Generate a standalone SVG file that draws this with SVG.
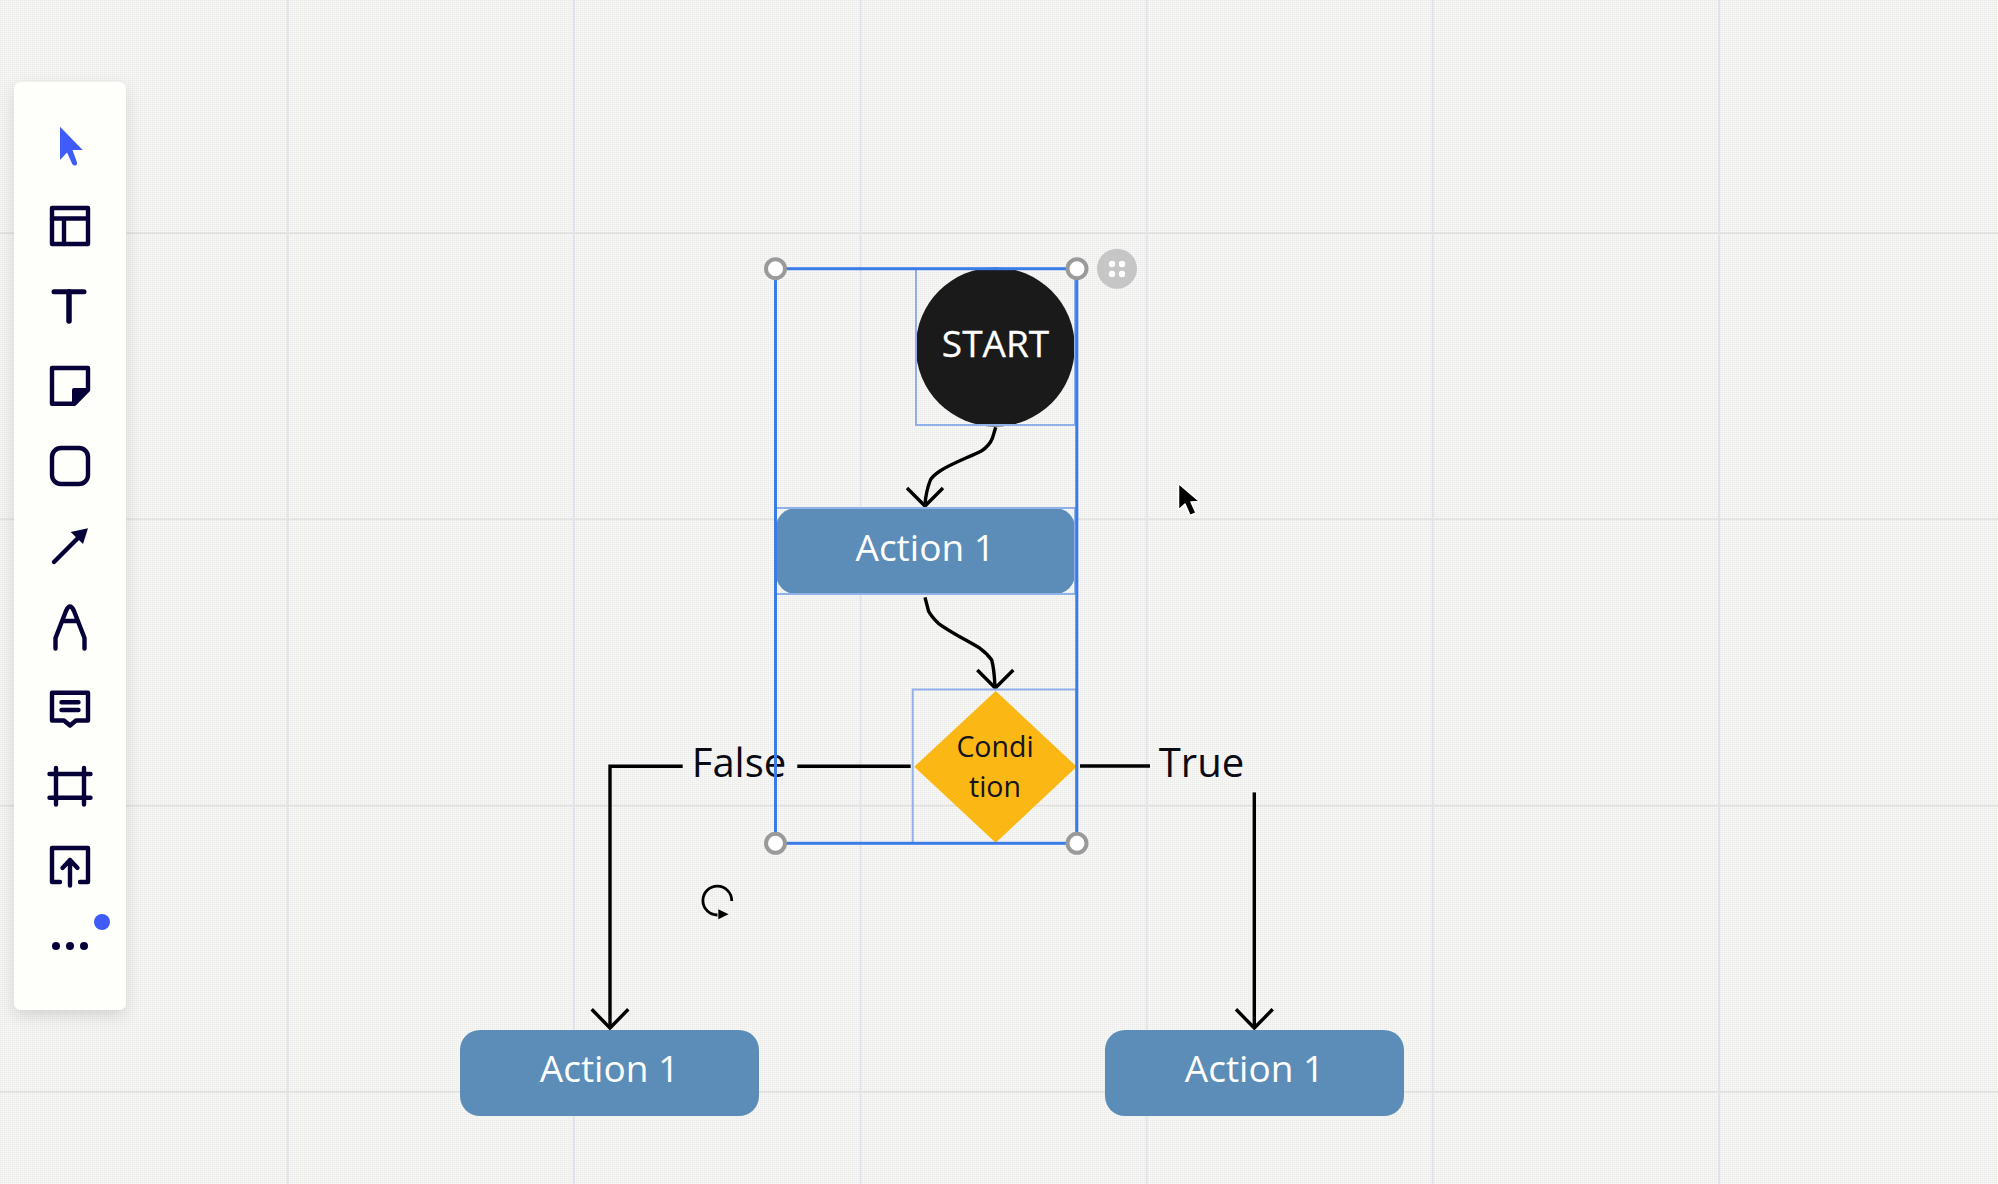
<svg xmlns="http://www.w3.org/2000/svg" width="1998" height="1184" viewBox="0 0 1998 1184">
<style>
.grid{stroke:#e3e3e1;stroke-width:2;fill:none}
.gridv{stroke:#e2e3ea;stroke-width:2;fill:none}
.conn{stroke:#000;stroke-width:3.4;fill:none}
.action{fill:#5b8db8}
.lbl{font-family:"Open Sans","Noto Sans",sans-serif;text-anchor:middle}
.w{fill:#fff;font-size:37px}
.k{fill:#0a0a14;font-size:40px}
.c{fill:#14141e;font-size:28.5px}
.box{fill:none;stroke:#8fb0e8;stroke-width:2}
.sel{fill:none;stroke:#3b7be8;stroke-width:3}
.h{fill:#fff;stroke:#9a9a9a;stroke-width:4}
.i{fill:none;stroke:#050038;stroke-width:4.4;stroke-linecap:round;stroke-linejoin:round}
.f{fill:#050038}
</style>
<defs>
<pattern id="dither" width="2" height="2" patternUnits="userSpaceOnUse">
<rect width="2" height="2" fill="#f3f3ef"/>
<rect width="1" height="1" fill="#ebebeb"/>
<rect x="1" y="1" width="1" height="1" fill="#fbfae8"/>
</pattern>
<filter id="shadow" x="-40%" y="-10%" width="180%" height="120%">
<feDropShadow dx="0" dy="6" stdDeviation="8" flood-color="#000" flood-opacity="0.13"/>
</filter>
</defs>
<rect id="background" width="1998" height="1184" fill="url(#dither)"/>
<g id="grid">
<path class="gridv" d="M287.7 0V1184M574 0V1184M860.5 0V1184M1146.7 0V1184M1432.7 0V1184M1719 0V1184"/>
<path class="grid" d="M0 233H1998M0 519.3H1998M0 805.7H1998M0 1092H1998"/>
</g>

<g id="connectors">
<path class="conn" d="M995.7 427.3L992.5 438C990 444 986 448 981.7 450.7C972 456 952 463 940 471C934 475 931 478 930 481C927 489 925.5 497 925 505"/>
<path class="conn" d="M907 488L925 506L943 488"/>
<path class="conn" d="M925 597.3L928.5 611C931 616 935 620 938.3 623.3C950 632 968 641 980 648.3C985 652 989 656 991.7 660C994 668 994.5 678 995 686"/>
<path class="conn" d="M977.3 670L995.3 688L1013.3 670"/>
<path class="conn" d="M682.7 766.3H610V1027"/>
<path class="conn" d="M797.3 766.3H910.7"/>
<path class="conn" d="M591.7 1009.3L610 1028L628.3 1009.3"/>
<path class="conn" d="M1080 766H1150"/>
<path class="conn" d="M1254.3 792.4V1027"/>
<path class="conn" d="M1236 1009.3L1254.3 1028L1272.7 1009.3"/>
</g>

<g id="node-start">
<circle cx="995.3" cy="347" r="79.5" fill="#1a1a1a"/>
<rect class="box" x="916" y="269" width="159" height="156"/>
<text class="lbl w" x="995.5" y="356.7" stroke="#fff" stroke-width="0.3">START</text>
</g>
<g id="node-action-top">
<rect class="action" x="776" y="508" width="299" height="86" rx="20"/>
<rect class="box" x="776" y="508" width="299" height="86"/>
<text class="lbl w" x="925.2" y="561">Action 1</text>
</g>
<g id="node-condition">
<path d="M995.7 691L1076.7 766.7L995.7 842.7L914.3 766.7Z" fill="#fbb714"/>
<rect class="box" x="912.7" y="689.5" width="163.5" height="153.5"/>
<text class="lbl c" x="995" y="756.7">Condi</text>
<text class="lbl c" x="995" y="796.7">tion</text>
</g>
<g id="node-action-left">
<rect class="action" x="460" y="1030" width="299" height="86" rx="20"/>
<text class="lbl w" x="609.5" y="1082">Action 1</text>
</g>
<g id="node-action-right">
<rect class="action" x="1105" y="1030" width="299" height="86" rx="20"/>
<text class="lbl w" x="1254.5" y="1082">Action 1</text>
</g>
<g id="label-false"><text class="lbl k" x="739" y="776.7">False</text></g>
<g id="label-true"><text class="lbl k" x="1201.5" y="776.7">True</text></g>

<g id="selection">
<rect class="sel" x="775.5" y="268.7" width="301.3" height="574.6"/>
<circle class="h" cx="775.5" cy="268.7" r="9.5"/>
<circle class="h" cx="1077" cy="268.7" r="9.5"/>
<circle class="h" cx="775.5" cy="843.3" r="9.5"/>
<circle class="h" cx="1077" cy="843.3" r="9.5"/>
<circle cx="1117" cy="268.7" r="20" fill="#c6c6c6"/>
<g fill="#fff"><circle cx="1112" cy="264" r="3.2"/><circle cx="1122" cy="264" r="3.2"/><circle cx="1112" cy="274" r="3.2"/><circle cx="1122" cy="274" r="3.2"/></g>
</g>

<g id="rotate-cursor">
<path d="M731.7 901A14.4 14.4 0 1 0 717.5 915" fill="none" stroke="#000" stroke-width="2.8"/>
<path d="M718.3 909.3L728.6 914.3L718.3 919.3Z" fill="#000"/>
</g>
<g id="pointer-cursor">
<path d="M1178.5 483.5V510L1185 504L1190 515.5L1196 513L1191 502L1199.5 501.5Z" fill="#000" stroke="#fff" stroke-width="1.5" stroke-linejoin="round"/>
</g>

<g id="toolbar">
<rect x="14" y="82" width="112" height="928" rx="7" fill="#fefefa" filter="url(#shadow)"/>
<path d="M60 126.7L82.7 150H72.5L77 162.5Q77.5 165 75 165.5Q73 166 72 163.5L67 152.5L60 160Z" fill="#3f5cf8"/>
<g class="i">
<rect x="52" y="208" width="36" height="36"/><path d="M52 218.5H88M64 218.5V244"/>
<path d="M54 291.7H84" stroke-width="5"/><path d="M69 291.7V321" stroke-width="5.5"/>
<path d="M52 368H88V390L74.5 403.7H52Z"/>
<rect x="52" y="448" width="36" height="36" rx="9"/>
<path d="M54 562L78 538"/>
<path d="M55.5 648.5V638L66 611Q70 602 74 611L84.5 638V648.5M62 621H78"/>
<path d="M52 692.7H88V720.5H76L70 725.5L64 720.5H52ZM61.5 702.3H78.5M61.5 710H78.5"/>
<path d="M49.5 774H90.5M49.5 797.7H90.5M56 768V804.5M84 768V804.5"/>
<path d="M60 882H52V848H88V882H80M70 885.5V860M62.5 868L70 860L77.5 868"/>
</g>
<path class="f" d="M72 390Q72 388 74 388H89L75 404H72Z"/>
<path class="f" d="M88 528.3L70.7 532L83 544Z"/>
<circle class="f" cx="56" cy="946" r="4"/><circle class="f" cx="70" cy="946" r="4"/><circle class="f" cx="84" cy="946" r="4"/>
<circle cx="102" cy="922" r="8" fill="#3f5cf8"/>
</g>
</svg>
